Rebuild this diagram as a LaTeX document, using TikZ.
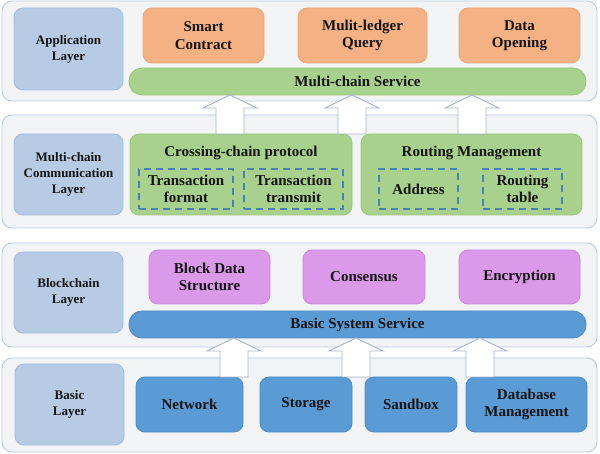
\documentclass[tikz,border=0pt]{standalone}
\usepackage{fontspec}
\setmainfont{Liberation Serif}
\usetikzlibrary{calc}
\definecolor{layerfill}{HTML}{F2F3F5}
\definecolor{layerdraw}{HTML}{B9CBDD}
\definecolor{labfill}{HTML}{B7CBE5}
\definecolor{labdraw}{HTML}{A3BDDD}
\definecolor{orfill}{HTML}{F4B183}
\definecolor{ordraw}{HTML}{E9A878}
\definecolor{grfill}{HTML}{A9D18E}
\definecolor{grdraw}{HTML}{98C67C}
\definecolor{pufill}{HTML}{DB99E9}
\definecolor{pudraw}{HTML}{CC88DC}
\definecolor{blfill}{HTML}{5B9BD5}
\definecolor{bldraw}{HTML}{4D8DC6}
\definecolor{dashc}{HTML}{4A80B2}
\definecolor{arrdraw}{HTML}{A6B6CA}
\definecolor{txt}{HTML}{141414}
\tikzset{
  base/.style={rounded corners=9pt, inner sep=0pt, outer sep=0pt, line width=0.9pt, align=center, text=txt,
    font=\fontsize{15}{17.5}\selectfont\bfseries},
  layer/.style={base, fill=layerfill, draw=layerdraw, rounded corners=10pt},
  labbox/.style={base, fill=labfill, draw=labdraw, font=\fontsize{13}{16}\selectfont\bfseries},
  orbox/.style={base, fill=orfill, draw=ordraw},
  grbox/.style={base, fill=grfill, draw=grdraw},
  pubox/.style={base, fill=pufill, draw=pudraw},
  blbox/.style={base, fill=blfill, draw=bldraw},
  grbar/.style={base, fill=grfill, draw=grdraw, rounded corners=13pt},
  blbar/.style={base, fill=blfill, draw=bldraw, rounded corners=13pt},
  dbox/.style={base, rounded corners=0pt, draw=dashc, line width=1.4pt, dash pattern=on 7pt off 5pt},
  uparrow/.style={draw=arrdraw, fill=white, line width=0.9pt, line join=miter},
}
\newcommand\uparr[3]{%
  \draw[uparrow] let \p1=(#2.north), \p2=(#3.south) in
    ({#1pt-14pt},\y1) -- ({#1pt-14pt},{\y2-13pt}) -- ({#1pt-27pt},{\y2-13pt}) -- ({#1pt},\y2)
    -- ({#1pt+27pt},{\y2-13pt}) -- ({#1pt+14pt},{\y2-13pt}) -- ({#1pt+14pt},\y1) -- cycle;}
\begin{document}
\begin{tikzpicture}[x=1pt,y=-1pt]
\useasboundingbox (0,0) rectangle (600,454);
% layers
\node[layer, minimum width=595pt, minimum height=100pt] (L1) at (299.5,51) {};
\node[layer, minimum width=595pt, minimum height=113pt] (L2) at (299.5,171.5) {};
\node[layer, minimum width=595pt, minimum height=104pt] (L3) at (299.5,295) {};
\node[layer, minimum width=595pt, minimum height=94pt] (L4) at (299.5,405) {};
% labels
\node[labbox, minimum width=109pt, minimum height=82pt] (lab1) at (68.5,49) {Application\\Layer};
\node[labbox, minimum width=109pt, minimum height=81pt] (lab2) at (68.5,174.5) {Multi-chain\\Communication\\Layer};
\node[labbox, minimum width=109pt, minimum height=81pt] (lab3) at (68.5,292.5) {Blockchain\\Layer};
\node[labbox, minimum width=109pt, minimum height=81pt] (lab4) at (69.5,404.5) {Basic\\Layer};
% application layer
\node[orbox, minimum width=121pt, minimum height=55pt] (sc) at (203.5,35.5) {Smart\\Contract};
\node[orbox, minimum width=129pt, minimum height=55pt] (mq) at (362.5,35.5) {Mulit-ledger\\Query};
\node[orbox, minimum width=121pt, minimum height=55pt] (do) at (519.5,35.5) {Data\\Opening};
\node[grbar, minimum width=457pt, minimum height=27pt] (mcs) at (357.5,81.5) {Multi-chain Service};
% communication layer
\node[grbox, minimum width=222pt, minimum height=81pt] (ccp) at (241,174.5) {};
\node[font=\fontsize{15}{17.5}\selectfont\bfseries, text=txt] (ccpt) at (241,153) {Crossing-chain protocol};
\node[grbox, minimum width=221pt, minimum height=81pt] (rm) at (471.5,174.5) {};
\node[font=\fontsize{15}{17.5}\selectfont\bfseries, text=txt] (rmt) at (471.5,153) {Routing Management};
\node[dbox, minimum width=94pt, minimum height=40pt] (tf) at (186,189) {Transaction\\format};
\node[dbox, minimum width=99pt, minimum height=40pt] (tt) at (293.5,189) {Transaction\\transmit};
\node[dbox, minimum width=79pt, minimum height=40pt] (ad) at (418.5,189) {Address};
\node[dbox, minimum width=79pt, minimum height=40pt] (rt) at (522.5,189) {Routing\\table};
% blockchain layer
\node[pubox, minimum width=121pt, minimum height=54pt] (bds) at (209.5,277) {Block Data\\Structure};
\node[pubox, minimum width=122pt, minimum height=54pt] (con) at (364,277) {Consensus};
\node[pubox, minimum width=121pt, minimum height=54pt] (enc) at (519.5,277) {Encryption};
\node[blbar, minimum width=457pt, minimum height=27pt] (bss) at (357.5,324.5) {Basic System Service};
% basic layer
\node[blbox, minimum width=107pt, minimum height=55pt] (net) at (189.5,404.5) {Network};
\node[blbox, minimum width=92pt, minimum height=55pt] (sto) at (306,404.5) {Storage};
\node[blbox, minimum width=92pt, minimum height=55pt] (sbx) at (411,404.5) {Sandbox};
\node[blbox, minimum width=121pt, minimum height=55pt] (db) at (526.5,404.5) {Database\\Management};
% arrows
\uparr{230}{ccp}{mcs}
\uparr{352}{ccp}{mcs}
\uparr{472}{rm}{mcs}
\uparr{234}{net}{bss}
\uparr{356}{net}{bss}
\uparr{480}{net}{bss}
\end{tikzpicture}
\end{document}
